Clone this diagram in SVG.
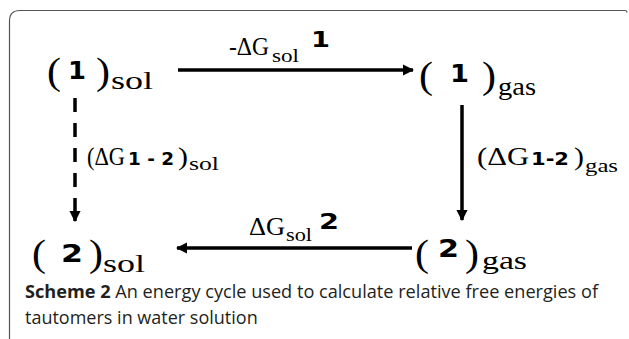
<svg xmlns="http://www.w3.org/2000/svg" width="629" height="339" viewBox="0 0 629 339">
<style>
.s{font-family:"Liberation Serif","Times New Roman",serif;fill:#000}
.b{font-family:"DejaVu Sans","Verdana",sans-serif;font-weight:bold;fill:#000}
.c{font-family:"Open Sans","Noto Sans",sans-serif;fill:#231f20}
.ln{stroke:#000;stroke-width:3.5;fill:none}
</style>
<defs>
<marker id="ah" viewBox="0 0 10 10" refX="9" refY="5" markerWidth="3.2" markerHeight="3.2" orient="auto" markerUnits="strokeWidth">
<path d="M0,0 L10,5 L0,10 z" fill="#000"/>
</marker>
</defs>
<path d="M9.5,339 V21 Q9.5,10.5 20,10.5 H625 Q627,10.5 627,12.5" fill="none" stroke="#555" stroke-width="1.2"/>
<g id="n1sol">
<text class="s" x="47" y="84" font-size="37" textLength="14" lengthAdjust="spacingAndGlyphs">(</text>
<text class="b" x="68" y="79" font-size="24" textLength="18" lengthAdjust="spacingAndGlyphs">1</text>
<text class="s" x="96" y="84" font-size="37" textLength="14" lengthAdjust="spacingAndGlyphs">)</text>
<text class="s" x="111" y="89" font-size="25" textLength="42" lengthAdjust="spacingAndGlyphs">sol</text>
</g>
<g id="n1gas">
<text class="s" x="419" y="88" font-size="37" textLength="14" lengthAdjust="spacingAndGlyphs">(</text>
<text class="b" x="450" y="82" font-size="24" textLength="19" lengthAdjust="spacingAndGlyphs">1</text>
<text class="s" x="482" y="88" font-size="37" textLength="14" lengthAdjust="spacingAndGlyphs">)</text>
<text class="s" x="498" y="95" font-size="25" textLength="38" lengthAdjust="spacingAndGlyphs">gas</text>
</g>
<g id="n2sol">
<text class="s" x="32" y="266" font-size="37" textLength="14" lengthAdjust="spacingAndGlyphs">(</text>
<text class="b" x="61" y="262" font-size="24" textLength="22" lengthAdjust="spacingAndGlyphs">2</text>
<text class="s" x="89" y="266" font-size="37" textLength="14" lengthAdjust="spacingAndGlyphs">)</text>
<text class="s" x="103" y="272" font-size="25" textLength="42" lengthAdjust="spacingAndGlyphs">sol</text>
</g>
<g id="n2gas">
<text class="s" x="415" y="266" font-size="37" textLength="14" lengthAdjust="spacingAndGlyphs">(</text>
<text class="b" x="438" y="257" font-size="24" textLength="21" lengthAdjust="spacingAndGlyphs">2</text>
<text class="s" x="465" y="266" font-size="37" textLength="14" lengthAdjust="spacingAndGlyphs">)</text>
<text class="s" x="482" y="269" font-size="25" textLength="45" lengthAdjust="spacingAndGlyphs">gas</text>
</g>
<g id="connectors">
<line class="ln" x1="178" y1="70" x2="413" y2="70" marker-end="url(#ah)"/>
<line class="ln" x1="462" y1="105" x2="462" y2="220" marker-end="url(#ah)"/>
<line class="ln" x1="412" y1="248" x2="177" y2="248" marker-end="url(#ah)"/>
<line class="ln" x1="75" y1="98" x2="75" y2="192" stroke-dasharray="14 11"/>
<line class="ln" x1="75" y1="198" x2="75" y2="221" marker-end="url(#ah)"/>
</g>
<g id="labels">
<text class="s" x="229" y="55" font-size="26" textLength="40" lengthAdjust="spacingAndGlyphs">-ΔG</text>
<text class="s" x="272" y="62" font-size="18" textLength="27" lengthAdjust="spacingAndGlyphs">sol</text>
<text class="b" x="311" y="47" font-size="22" textLength="19" lengthAdjust="spacingAndGlyphs">1</text>
<text class="s" x="477" y="165" font-size="26" textLength="52" lengthAdjust="spacingAndGlyphs">(ΔG</text>
<text class="b" x="531" y="165" font-size="17" textLength="38" lengthAdjust="spacingAndGlyphs">1-2</text>
<text class="s" x="574" y="165" font-size="26" textLength="10" lengthAdjust="spacingAndGlyphs">)</text>
<text class="s" x="585" y="172" font-size="18" textLength="33" lengthAdjust="spacingAndGlyphs">gas</text>
<text class="s" x="87" y="165" font-size="26" textLength="38" lengthAdjust="spacingAndGlyphs">(ΔG</text>
<text class="b" x="128" y="165" font-size="17" textLength="46" lengthAdjust="spacingAndGlyphs">1 - 2</text>
<text class="s" x="178" y="165" font-size="26" textLength="10" lengthAdjust="spacingAndGlyphs">)</text>
<text class="s" x="189" y="170" font-size="18" textLength="30" lengthAdjust="spacingAndGlyphs">sol</text>
<text class="s" x="249" y="235" font-size="26" textLength="36" lengthAdjust="spacingAndGlyphs">ΔG</text>
<text class="s" x="286" y="241" font-size="18" textLength="26" lengthAdjust="spacingAndGlyphs">sol</text>
<text class="b" x="319" y="229" font-size="22" textLength="20" lengthAdjust="spacingAndGlyphs">2</text>
</g>
<g id="caption">
<text class="c" x="25" y="298" font-size="18" textLength="573" lengthAdjust="spacingAndGlyphs"><tspan font-weight="bold">Scheme 2</tspan>  An energy cycle used to calculate relative free energies of</text>
<text class="c" x="25" y="324" font-size="18">tautomers in water solution</text>
</g>
</svg>
